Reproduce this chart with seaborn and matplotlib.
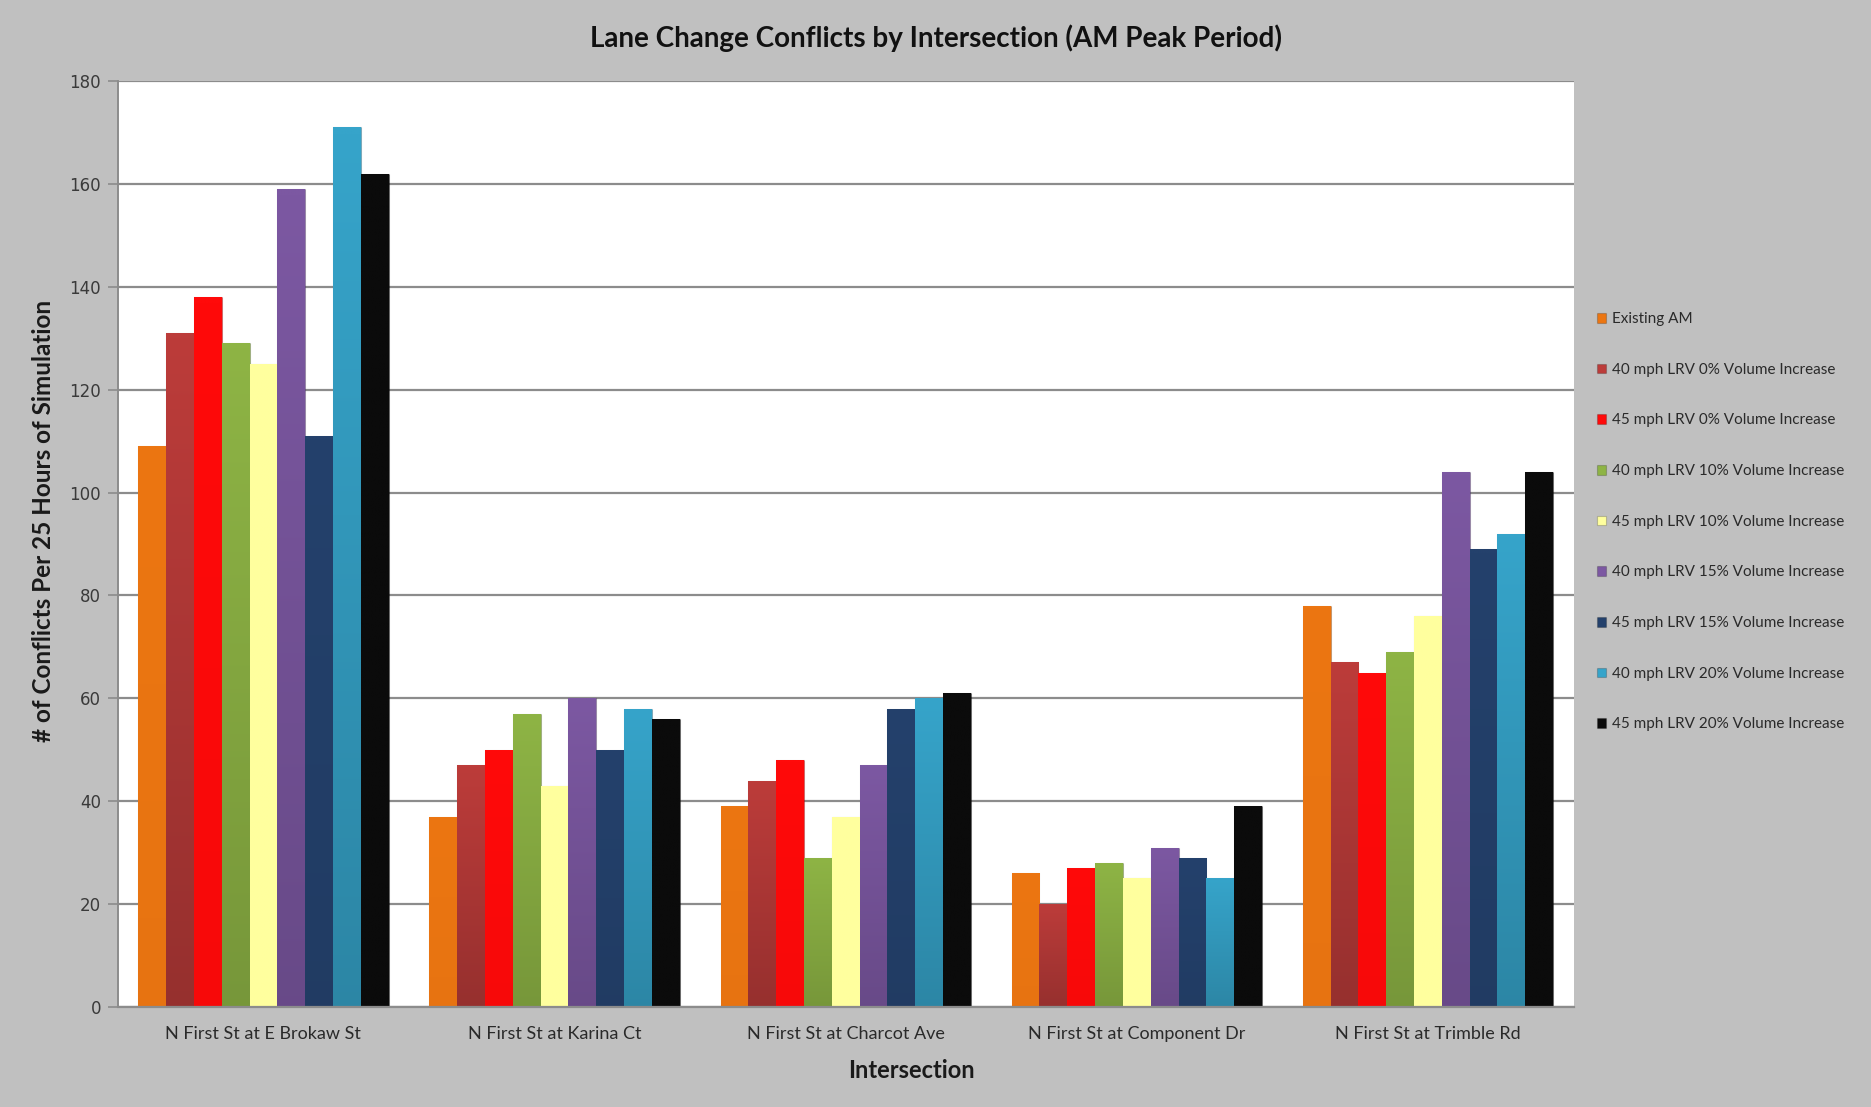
import matplotlib
matplotlib.use("Agg")
import matplotlib.pyplot as plt
import matplotlib.colors as mcolors
import seaborn as sns
import pandas as pd
import numpy as np

intersections = [
    "N First St at E Brokaw St",
    "N First St at Karina Ct",
    "N First St at Charcot Ave",
    "N First St at Component Dr",
    "N First St at Trimble Rd",
]

scenarios = [
    "Existing AM",
    "40 mph LRV 0% Volume Increase",
    "45 mph LRV 0% Volume Increase",
    "40 mph LRV 10% Volume Increase",
    "45 mph LRV 10% Volume Increase",
    "40 mph LRV 15% Volume Increase",
    "45 mph LRV 15% Volume Increase",
    "40 mph LRV 20% Volume Increase",
    "45 mph LRV 20% Volume Increase",
]

existing_am = [109, 37, 39, 26, 78]
lrv40_0 = [131, 47, 44, 20, 67]
lrv45_0 = [138, 50, 48, 27, 65]
lrv40_10 = [129, 57, 29, 28, 69]
lrv45_10 = [125, 43, 37, 25, 76]
lrv40_15 = [159, 60, 47, 31, 104]
lrv45_15 = [111, 50, 58, 29, 89]
lrv40_20 = [171, 58, 60, 25, 92]
lrv45_20 = [162, 56, 61, 39, 104]

series = [existing_am, lrv40_0, lrv45_0, lrv40_10, lrv45_10,
          lrv40_15, lrv45_15, lrv40_20, lrv45_20]

colors = ["#EC7612", "#BC3C3A", "#FF0A0A", "#8EB445", "#FFFF9E",
          "#7C58A2", "#24416C", "#36A4CA", "#0B0B0B"]
# how dark each series gets at the base of its bars
base_shade = [0.98, 0.80, 0.97, 0.84, 1.0, 0.84, 0.92, 0.82, 1.0]

y_ticks = [0, 20, 40, 60, 80, 100, 120, 140, 160, 180]

rows = []
for name, vals in zip(scenarios, series):
    for place, v in zip(intersections, vals):
        rows.append({"Intersection": place, "Scenario": name, "Conflicts": v})
df = pd.DataFrame(rows)

sns.set_theme(style="white")
plt.rcParams["font.family"] = ["Lato", "DejaVu Sans"]

bg = "#C0C0C0"
fig = plt.figure(figsize=(18.71, 11.07), dpi=100, facecolor=bg)
ax = fig.add_axes([0.063, 0.0903, 0.778, 0.8365])
ax.set_facecolor("white")

sns.barplot(data=df, x="Intersection", y="Conflicts", hue="Scenario",
            order=intersections, hue_order=scenarios, palette=colors,
            width=0.86, gap=0.0, saturation=1.0, errorbar=None,
            edgecolor="#00000030", linewidth=0.8, ax=ax)

# Shade each bar with a soft vertical gradient toward its base
xlim = ax.get_xlim()
for container, dark in zip(ax.containers, base_shade):
    for bar in container:
        rgb = np.array(mcolors.to_rgb(bar.get_facecolor()))
        shade = np.linspace(1.0, dark, 64)[:, None, None]
        grad = np.clip(rgb[None, None, :] * shade, 0, 1)
        x0, y0 = bar.get_x(), bar.get_y()
        w, h = bar.get_width(), bar.get_height()
        im = ax.imshow(grad, extent=(x0, x0 + w, y0, y0 + h),
                       origin="upper", aspect="auto",
                       zorder=bar.get_zorder() + 0.01, interpolation="bilinear")
        im.set_clip_path(bar)

ax.set_xlim(xlim)
ax.set_ylim(0, 180)
ax.set_yticks(y_ticks)
ax.set_yticklabels([str(t) for t in y_ticks], family="DejaVu Sans",
                   fontsize=12, color="#3A3A3A")
ax.yaxis.grid(True, color="#8C8C8C", linewidth=1.6)
ax.set_axisbelow(True)
ax.tick_params(axis="y", which="both", left=True, length=7, width=1.2,
               color="#8C8C8C", pad=5)
ax.tick_params(axis="x", length=0, pad=14)
for lbl in ax.get_xticklabels():
    lbl.set_fontsize(13)
    lbl.set_color("#2A2A2A")

for side in ["top", "right"]:
    ax.spines[side].set_visible(False)
ax.spines["left"].set_color("#8C8C8C")
ax.spines["left"].set_linewidth(1.4)
ax.spines["bottom"].set_color("#8C8C8C")
ax.spines["bottom"].set_linewidth(1.6)

ax.set_xlabel("Intersection", fontsize=17, fontweight="bold",
              color="#1A1A1A")
ax.xaxis.set_label_coords(0.545, -0.056)
ax.set_ylabel("# of Conflicts Per 25 Hours of Simulation", fontsize=17.5,
              fontweight="bold", color="#1A1A1A")
ax.yaxis.set_label_coords(-0.043, 0.525)

fig.suptitle("Lane Change Conflicts by Intersection (AM Peak Period)",
             fontsize=20, fontweight="bold", color="#111111", y=0.978)

leg = ax.legend(loc="upper left", bbox_to_anchor=(1.012, 0.757),
                frameon=False, fontsize=11, labelspacing=2.4,
                handlelength=0.6, handleheight=0.6, handletextpad=0.35,
                borderaxespad=0)
for t in leg.get_texts():
    t.set_color("#2A2A2A")

fig.savefig("out.png", dpi=100, facecolor=bg)
